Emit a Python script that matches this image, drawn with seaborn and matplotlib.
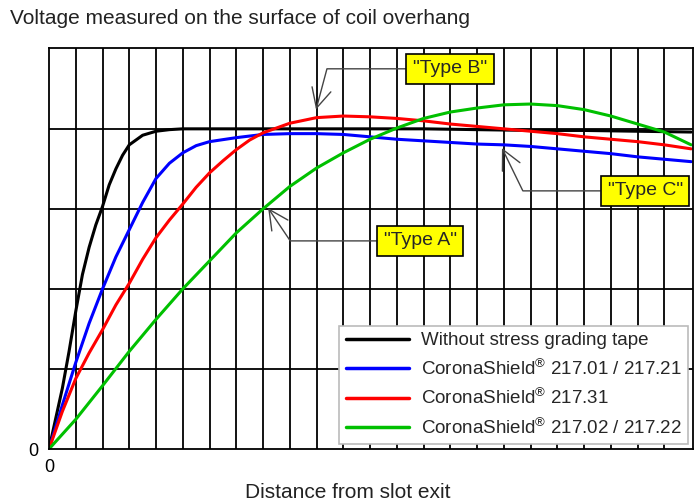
import numpy as np
import pandas as pd
import seaborn as sns
import matplotlib.pyplot as plt

# 곡선 데이터 (눈금 단위로 읽은 값)
x_black = [0, 0.25, 0.5, 0.75, 1, 1.25, 1.5, 1.75, 2, 2.25, 2.5, 2.75, 3, 3.5, 4, 4.5, 5,
           6, 8, 10, 12, 14, 16, 18, 20, 22, 24]
y_black = [0, 0.38, 0.76, 1.22, 1.72, 2.18, 2.52, 2.8, 3.03, 3.3, 3.5, 3.67, 3.8, 3.92, 3.97, 3.99, 4.0,
           4.0, 4.0, 4.0, 4.0, 4.0, 3.99, 3.98, 3.98, 3.97, 3.96]

x_blue = [0, 0.5, 1, 1.5, 2, 2.5, 3, 3.5, 4, 4.5, 5, 5.5, 6, 7, 8, 9, 10, 11, 12,
          13, 14, 15, 16, 17, 18, 19, 20, 21, 22, 23, 24]
y_blue = [0, 0.55, 1.08, 1.57, 2.0, 2.4, 2.74, 3.08, 3.38, 3.57, 3.7, 3.79, 3.84, 3.89, 3.93, 3.94, 3.94, 3.93, 3.9,
          3.87, 3.85, 3.83, 3.81, 3.8, 3.78, 3.75, 3.72, 3.69, 3.65, 3.62, 3.59]

x_red = [0, 0.5, 1, 1.5, 2, 2.5, 3, 3.5, 4, 4.5, 5, 5.5, 6, 6.5, 7, 7.5, 8, 9, 10, 11, 12,
         13, 14, 15, 16, 17, 18, 19, 20, 21, 22, 23, 24]
y_red = [0, 0.47, 0.88, 1.2, 1.49, 1.8, 2.07, 2.37, 2.64, 2.86, 3.06, 3.27, 3.45, 3.6, 3.74, 3.86, 3.95, 4.07, 4.14, 4.16, 4.15,
         4.13, 4.1, 4.06, 4.03, 4.0, 3.97, 3.94, 3.9, 3.87, 3.84, 3.8, 3.75]

x_green = [0, 1, 2, 3, 4, 5, 6, 7, 8, 9, 10, 11, 12, 13, 14, 15, 16, 17, 18, 19, 20, 21, 22, 23, 24]
y_green = [0, 0.37, 0.79, 1.22, 1.62, 2.0, 2.35, 2.7, 3.0, 3.28, 3.51, 3.7, 3.87, 4.01, 4.13, 4.21, 4.26, 4.3, 4.31,
           4.29, 4.24, 4.16, 4.06, 3.96, 3.8]

labels = ['Without stress grading tape',
          r'CoronaShield$^{\circledR}$ 217.01 / 217.21',
          r'CoronaShield$^{\circledR}$ 217.31',
          r'CoronaShield$^{\circledR}$ 217.02 / 217.22']
colors = ['#000000', '#0000FF', '#FF0000', '#00C000']

df = pd.concat([
    pd.DataFrame({'x': x_black, 'y': y_black, 'type': labels[0]}),
    pd.DataFrame({'x': x_blue, 'y': y_blue, 'type': labels[1]}),
    pd.DataFrame({'x': x_red, 'y': y_red, 'type': labels[2]}),
    pd.DataFrame({'x': x_green, 'y': y_green, 'type': labels[3]}),
])

sns.set_theme(style='white')
plt.rcParams.update({'font.family': ['Liberation Sans', 'DejaVu Sans'],
                     'mathtext.fontset': 'custom',
                     'mathtext.rm': 'Liberation Sans',
                     'mathtext.it': 'Liberation Sans'})

fig = plt.figure(figsize=(6.99, 5.01), dpi=100)
ax = fig.add_axes([49/699, 1 - 449/501, 644/699, 401/501])

sns.lineplot(data=df, x='x', y='y', hue='type', hue_order=labels, palette=colors,
             sort=False, estimator=None, linewidth=2.2, ax=ax)

ax.set_xlim(0, 24.07)
ax.set_ylim(0, 5.01)
ax.set_xticks([0])
ax.set_yticks([0])
ax.set_xticks(np.arange(1, 24), minor=True)
ax.set_yticks(np.arange(1, 5), minor=True)
ax.grid(which='minor', color='black', linewidth=1.3)
ax.tick_params(which='both', length=0, labelsize=13, colors='black')
ax.tick_params(axis='x', pad=7)
ax.tick_params(axis='y', pad=8)
for s in ax.spines.values():
    s.set_color('black')
    s.set_linewidth(1.3)

ax.set_xlabel('Distance from slot exit', fontsize=15, labelpad=5, color='#222222', x=0.464)
ax.set_ylabel('')
fig.text(10/699, 1 - 19/501, 'Voltage measured on the surface of coil overhang',
         fontsize=15, ha='left', va='center', color='#222222')

leg = ax.legend(loc='lower right', bbox_to_anchor=(0.992, 0.012), borderaxespad=0,
                fontsize=13.5, frameon=True, fancybox=False, framealpha=1,
                handlelength=3.4, handletextpad=0.6, borderpad=0.35, labelspacing=0.5)
leg.get_frame().set_edgecolor('#BBBBBB')
leg.get_frame().set_linewidth(1.2)
for line in leg.get_lines():
    line.set_linewidth(2.5)

# 유형 표시 상자
notes = [('"Type B"', (9.98, 4.24), (14.99, 4.75), 75),
         ('"Type C"', (16.93, 3.76), (22.28, 3.225), -64),
         ('"Type A"', (8.19, 3.01), (13.87, 2.6), -56)]
for txt, tip, pos, ang in notes:
    ax.annotate(txt, xy=tip, xytext=pos, fontsize=14, ha='center', va='center',
                bbox=dict(boxstyle='square,pad=0.35', fc='#FFFF00', ec='black', lw=1.2),
                arrowprops=dict(arrowstyle='->,head_length=1.0,head_width=0.5', color='#444444',
                                lw=1.0, connectionstyle=f'angle,angleA=0,angleB={ang},rad=0',
                                shrinkA=0, shrinkB=0))

fig.savefig('out.png', dpi=100, facecolor='white')
